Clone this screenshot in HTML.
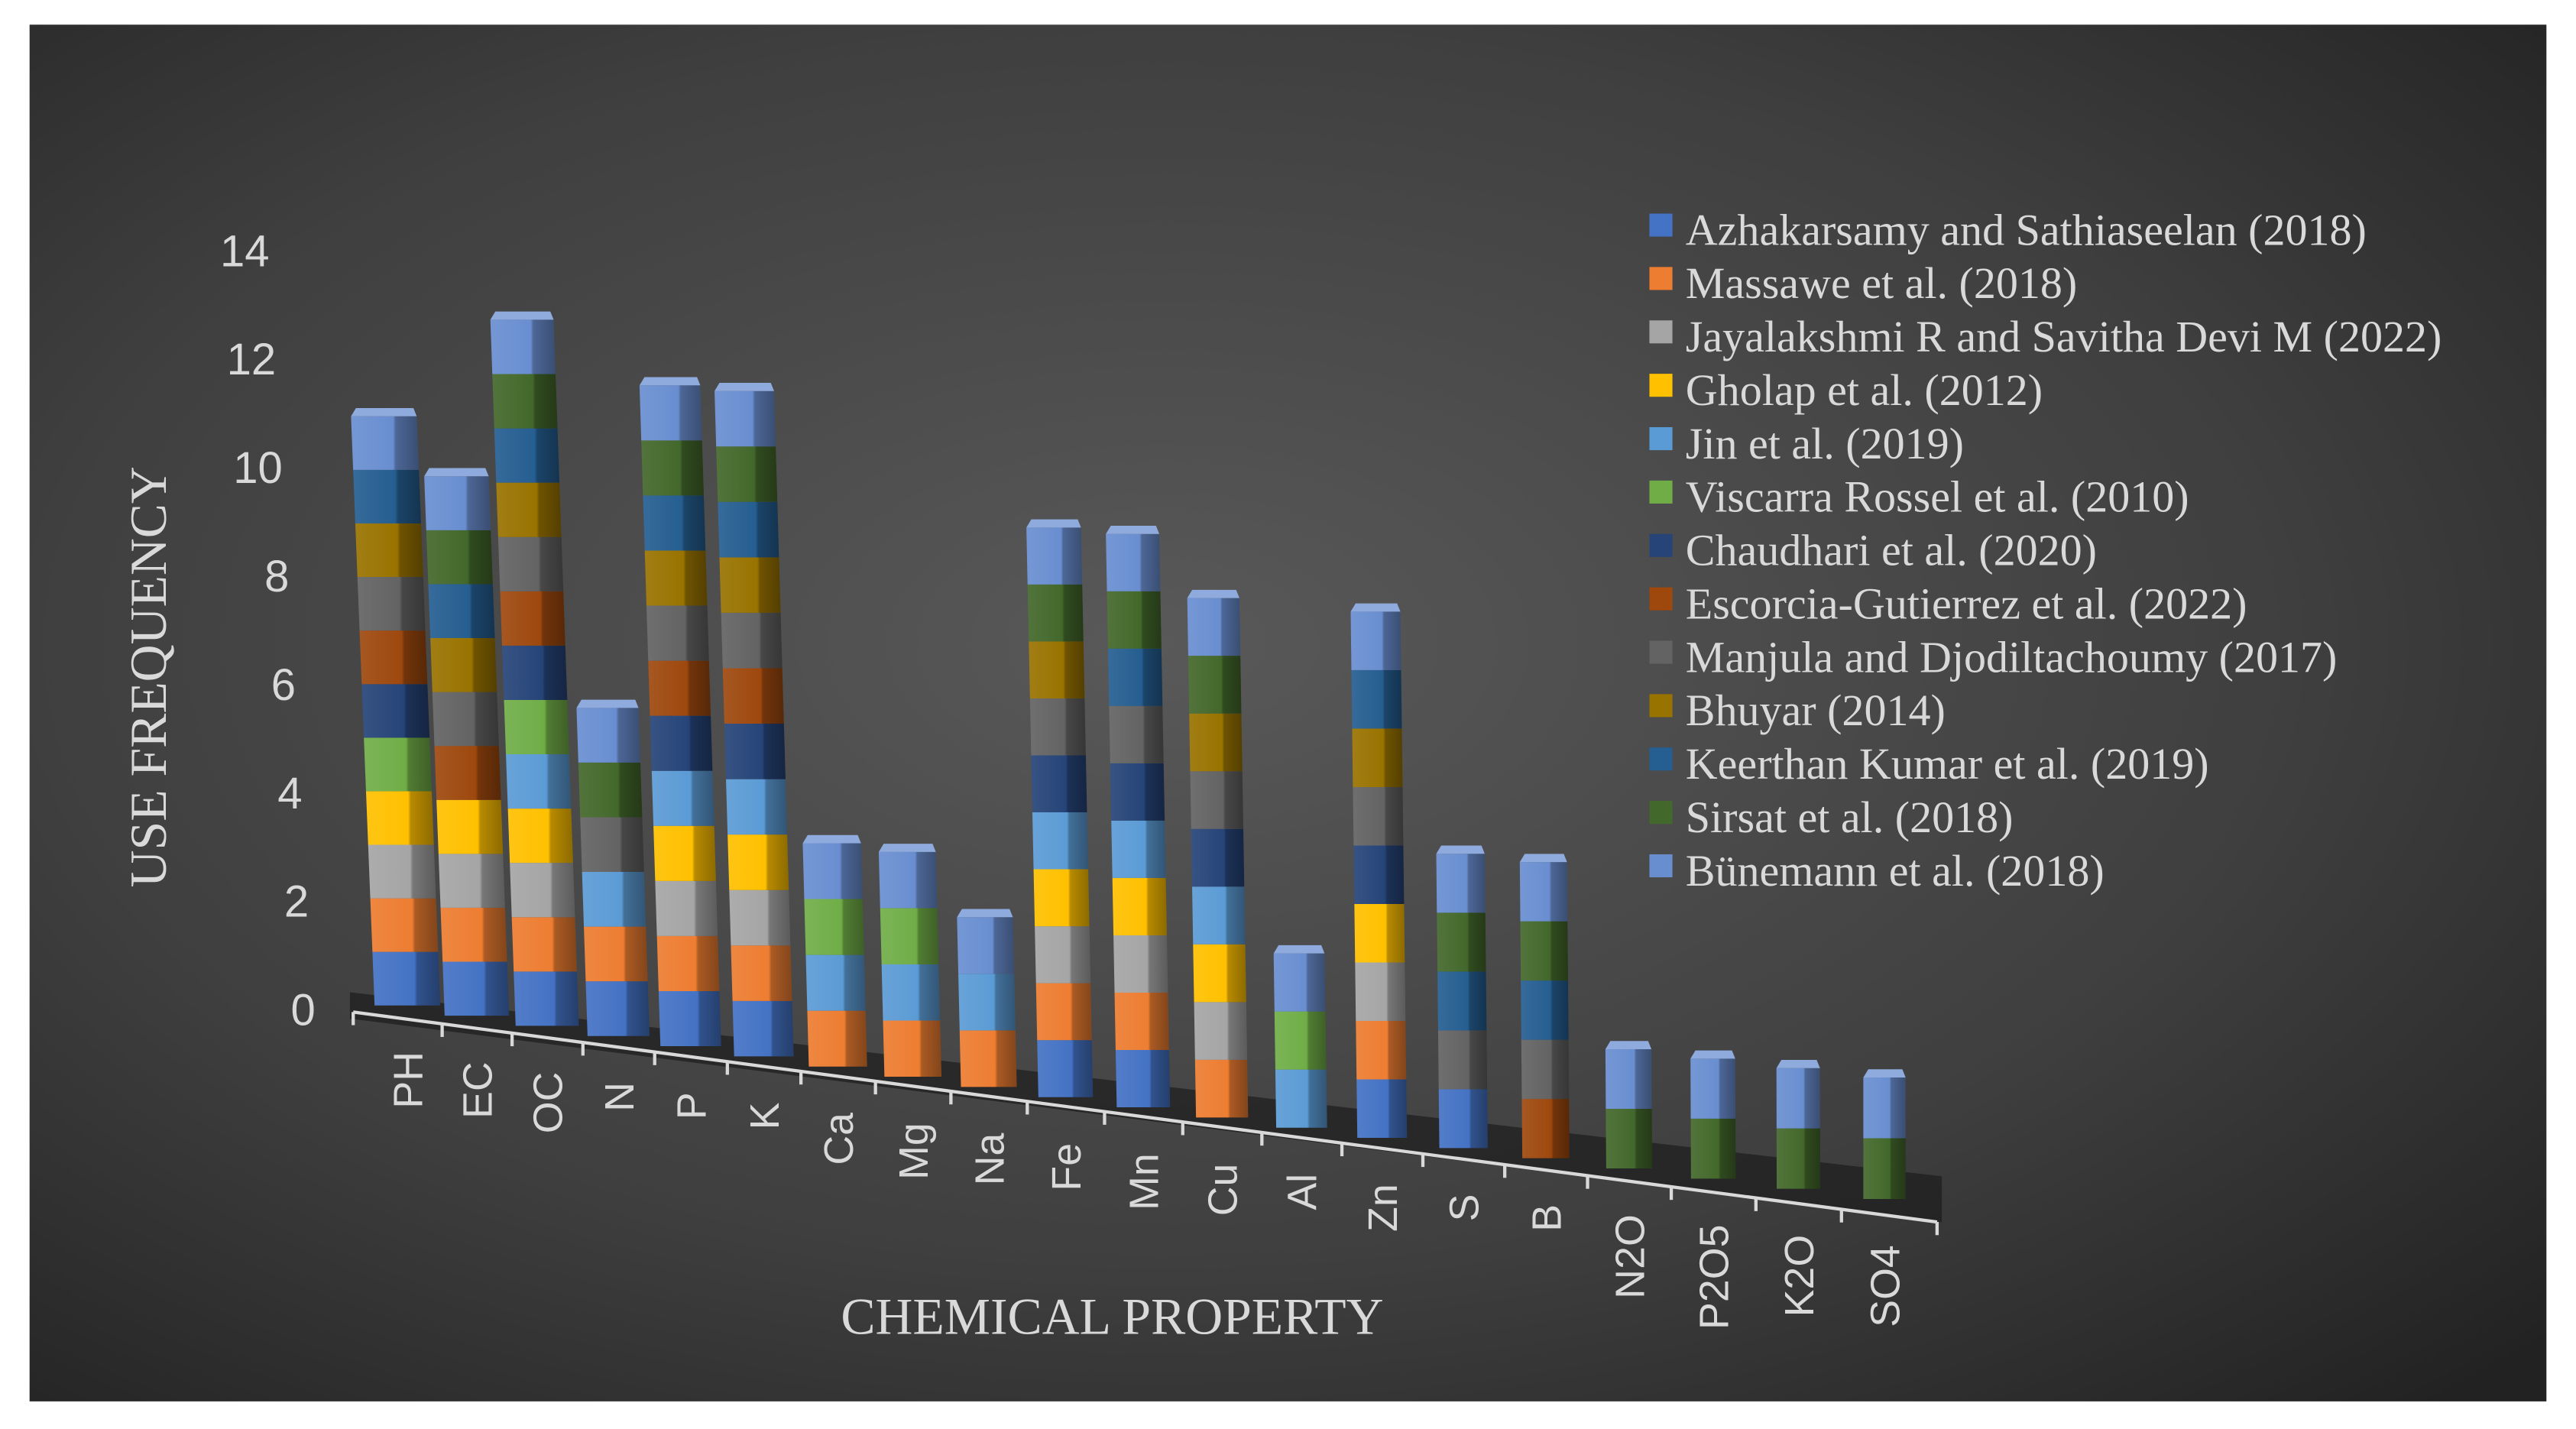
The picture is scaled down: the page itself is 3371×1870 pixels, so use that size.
<!DOCTYPE html>
<html><head><meta charset="utf-8">
<style>
html,body{margin:0;padding:0;background:#fff;}
svg{display:block;}
text{font-family:"Liberation Serif",serif;}
</style></head>
<body>
<svg id="chart" xmlns="http://www.w3.org/2000/svg" width="3371" height="1870" viewBox="0 0 1568 869.8">
<defs>
<radialGradient id="bg" cx="45%" cy="45%" r="75%">
<stop offset="0" stop-color="#595959"/>
<stop offset="0.6" stop-color="#3f3f3f"/>
<stop offset="1" stop-color="#222"/>
</radialGradient>
</defs>
<rect x="0" y="0" width="1568" height="870" fill="#fff"/>
<rect x="18" y="15" width="1532" height="838" fill="url(#bg)"/>
<polygon points="213,604 1182,716 1182,744 213,620" fill="#1c1c1c" opacity="0.7"/>
<g id="yaxis"></g>
<g id="bars"></g>
<g id="xaxis"></g>
<text x="101" y="412" transform="rotate(-90 101 412)" text-anchor="middle" font-size="31.5" fill="#d9d9d9">USE FREQUENCY</text>
<text x="677" y="812" text-anchor="middle" font-size="31.5" fill="#d9d9d9">CHEMICAL PROPERTY</text>
<g id="legend"></g>
</svg>
<script>
const categories = ["PH","EC","OC","N","P","K","Ca","Mg","Na","Fe","Mn","Cu","Al","Zn","S","B","N2O","P2O5","K2O","SO4"];
const seriesNames = ["Azhakarsamy and Sathiaseelan (2018)","Massawe et al. (2018)","Jayalakshmi R and Savitha Devi M (2022)","Gholap et al. (2012)","Jin et al. (2019)","Viscarra Rossel et al. (2010)","Chaudhari et al. (2020)","Escorcia-Gutierrez et al. (2022)","Manjula and Djodiltachoumy (2017)","Bhuyar (2014)","Keerthan Kumar et al. (2019)","Sirsat et al. (2018)","Bünemann et al. (2018)"];
const seriesColors = ["#4472C4","#ED7D31","#A5A5A5","#FFC000","#5B9BD5","#70AD47","#264478","#9E480E","#636363","#997300","#255E91","#43682B","#698ED0"];
const azhakarsamy = [1,1,1,1,1,1,0,0,0,1,1,0,0,1,1,0,0,0,0,0];
const massawe     = [1,1,1,1,1,1,1,1,1,1,1,1,0,1,0,0,0,0,0,0];
const jayalakshmi = [1,1,1,0,1,1,0,0,0,1,1,1,0,1,0,0,0,0,0,0];
const gholap      = [1,1,1,0,1,1,0,0,0,1,1,1,0,1,0,0,0,0,0,0];
const jin         = [0,0,1,1,1,1,1,1,1,1,1,1,1,0,0,0,0,0,0,0];
const viscarra    = [1,0,1,0,0,0,1,1,0,0,0,0,1,0,0,0,0,0,0,0];
const chaudhari   = [1,0,1,0,1,1,0,0,0,1,1,1,0,1,0,0,0,0,0,0];
const escorcia    = [1,1,1,0,1,1,0,0,0,0,0,0,0,0,0,1,0,0,0,0];
const manjula     = [1,1,1,1,1,1,0,0,0,1,1,1,0,1,1,1,0,0,0,0];
const bhuyar      = [1,1,1,0,1,1,0,0,0,1,0,1,0,1,0,0,0,0,0,0];
const keerthan    = [1,1,1,0,1,1,0,0,0,0,1,0,0,1,1,1,0,0,0,0];
const sirsat      = [0,1,1,1,1,1,0,0,0,1,1,1,0,0,1,1,1,1,1,1];
const bunemann    = [1,1,1,1,1,1,1,1,1,1,1,1,1,1,1,1,1,1,1,1];
const seriesValues = [azhakarsamy,massawe,jayalakshmi,gholap,jin,viscarra,chaudhari,escorcia,manjula,bhuyar,keerthan,sirsat,bunemann];
const yTicks = [0,2,4,6,8,10,12,14];

const NS = "http://www.w3.org/2000/svg";
function mk(tag, attrs, parent){const e=document.createElementNS(NS,tag);for(const k in attrs)e.setAttribute(k,attrs[k]);parent.appendChild(e);return e;}
function shade(hex,f){const n=parseInt(hex.slice(1),16);let r=n>>16,g=(n>>8)&255,b=n&255;
 const c=v=>Math.max(0,Math.min(255,Math.round(f<1?v*f:v+(255-v)*(f-1))));return "rgb("+c(r)+","+c(g)+","+c(b)+")";}
const N = categories.length;
function xPos(i){return 248 + i*42 + i*i*0.28;}
function yBase(i){return 612 + i*6.2;}
function barW(i){return 40 - i*0.75;}
function unitH(i){return 32.6 + i*0.23;}
function slant(i){return -0.04*(1 - i/(N-1));}
function yVal(v){return 615 - v*33;}
function tickX(v){return 192 - v/14*28;}

const svg=document.getElementById("chart");
const defs=svg.querySelector("defs");
seriesColors.forEach((c,s)=>{
 const g=mk("linearGradient",{id:"g"+s,x1:"0",x2:"1",y1:"0",y2:"0"},defs);
 mk("stop",{offset:"0",  "stop-color":shade(c,1.08)},g);
 mk("stop",{offset:"0.62","stop-color":c},g);
 mk("stop",{offset:"0.66","stop-color":shade(c,0.72)},g);
 mk("stop",{offset:"1",  "stop-color":shade(c,0.55)},g);
});

const ya=document.getElementById("yaxis");
yTicks.forEach(v=>{
 const t=mk("text",{x:tickX(v),y:yVal(v)+9,"text-anchor":"end","font-size":"27",fill:"#d9d9d9",style:"font-family:'Liberation Sans',sans-serif"},ya);
 
 
 t.textContent=v;
});

const bg=document.getElementById("bars");
categories.forEach((cat,i)=>{
 const grp=mk("g",{},bg);
 
 
 const w=barW(i), u=unitH(i), cx=xPos(i), yb=yBase(i), sl=slant(i);
 let stack=0, lastColor=null;
 seriesValues.forEach((vals,s)=>{
  const v=vals[i]; if(!v) return;
  const y0=yb-stack*u, y1=yb-(stack+v)*u;
  const x0=cx-w/2+sl*(stack*u), x1=cx-w/2+sl*((stack+v)*u);
  const seg=mk("polygon",{points:`${x0},${y0} ${x0+w},${y0} ${x1+w},${y1} ${x1},${y1}`,fill:"url(#g"+s+")"},grp);
  
  
  stack+=v; lastColor=seriesColors[s];
 });
 if(lastColor){
  const yt=yb-stack*u, xt=cx-w/2+sl*(stack*u);
  const top=mk("polygon",{points:`${xt},${yt} ${xt+w},${yt} ${xt+w-2},${yt-5} ${xt+3},${yt-5}`,fill:shade(lastColor,1.25)},grp);
  
  
 }
});

const xa=document.getElementById("xaxis");
const x0=xPos(0)-33, xN=xPos(N-1)+32;
const line=mk("line",{x1:x0,y1:yBase(0)+4,x2:xN,y2:yBase(N-1)+14,stroke:"#d9d9d9","stroke-width":"2"},xa);


for(let i=0;i<=N;i++){
 const xx = i<N ? xPos(i)-(i===0?33:(xPos(i)-xPos(i-1))/2) : xN;
 const t=(xx-x0)/(xN-x0);
 const yy=yBase(0)+4+t*(yBase(N-1)+10-yBase(0));
 const tk=mk("line",{x1:xx,y1:yy,x2:xx,y2:yy+8,stroke:"#d9d9d9","stroke-width":"2"},xa);
 
 
}
categories.forEach((cat,i)=>{
 const lx=xPos(i)+9, ly=yBase(i)+28;
 const t=mk("text",{x:lx,y:ly,transform:`rotate(-90 ${lx} ${ly})`,"text-anchor":"end","font-size":"25",fill:"#d9d9d9",style:"font-family:'Liberation Sans',sans-serif"},xa);
 
 
 t.textContent=cat;
});

const lg=document.getElementById("legend");
seriesNames.forEach((nm,s)=>{
 const y=140+s*32.5;
 const e=mk("g",{},lg);
 
 
 mk("rect",{x:1004,y:y-10,width:14,height:14,fill:seriesColors[s]},e);
 const t=mk("text",{x:1026,y:y+9,"font-size":"27",fill:"#d9d9d9"},e);
 t.textContent=nm;
});
</script>
</body></html>
